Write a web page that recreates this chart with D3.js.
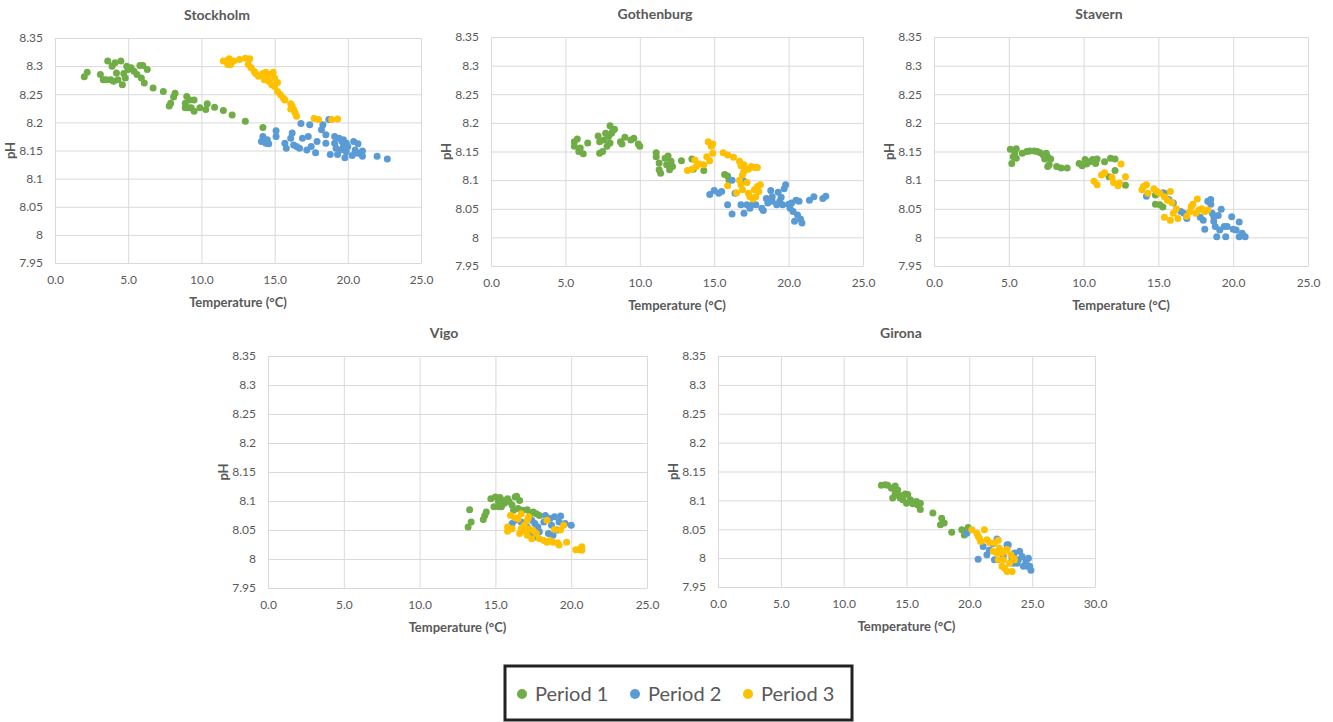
<!DOCTYPE html>
<html>
<head>
<meta charset="utf-8">
<script src="https://cdn.jsdelivr.net/npm/d3@7"></script>
<style>
  body { margin: 0; background: #fff; }
  text { font-family: Lato, "Open Sans", sans-serif; fill: #595959; }
</style>
</head>
<body>
<script>
// series names and colours
let periods = ["Period 1", "Period 2", "Period 3"];
let colors = ["#70ad47", "#5b9bd5", "#ffc000"];

let yTicks = [7.95, 8, 8.05, 8.1, 8.15, 8.2, 8.25, 8.3, 8.35];

// [temperature, pH]
let stockholmP1 = [[2.0,8.281],[2.2,8.289],[3.1,8.285],[3.3,8.276],[3.6,8.309],[3.8,8.276],[4.0,8.273],[4.2,8.288],[3.9,8.300],[4.1,8.306],[4.5,8.309],[4.6,8.267],[4.8,8.279],[4.9,8.300],[5.0,8.294],[5.2,8.297],[5.4,8.291],[5.6,8.285],[5.8,8.301],[6.0,8.301],[5.9,8.279],[6.1,8.270],[6.3,8.294],[3.5,8.276],[4.3,8.276],[4.7,8.287],[6.7,8.261],[7.4,8.255],[8.2,8.252],[8.1,8.245],[7.9,8.234],[7.8,8.229],[8.9,8.234],[9.0,8.246],[9.1,8.226],[9.2,8.240],[9.5,8.240],[9.5,8.220],[9.9,8.226],[10.3,8.223],[10.4,8.233],[10.9,8.227],[11.5,8.221],[12.1,8.213],[13.0,8.202],[14.2,8.191],[8.9,8.226],[9.3,8.226]];
let stockholmP2 = [[14.1,8.166],[14.2,8.175],[14.4,8.163],[14.5,8.169],[14.6,8.162],[15.1,8.185],[15.1,8.175],[15.7,8.163],[15.8,8.154],[16.1,8.172],[16.2,8.181],[16.3,8.160],[16.5,8.157],[16.7,8.154],[16.8,8.198],[16.9,8.172],[17.2,8.151],[17.3,8.175],[17.4,8.196],[17.5,8.157],[17.8,8.146],[17.9,8.166],[18.2,8.187],[18.3,8.196],[18.5,8.178],[18.5,8.163],[18.7,8.205],[18.8,8.143],[19.1,8.175],[19.1,8.163],[19.2,8.154],[19.3,8.143],[19.5,8.151],[19.6,8.166],[19.7,8.157],[19.8,8.137],[19.9,8.148],[19.9,8.163],[20.0,8.157],[20.3,8.141],[20.4,8.166],[20.5,8.151],[20.7,8.145],[20.7,8.162],[21.0,8.149],[21.0,8.140],[22.0,8.140],[22.7,8.135],[19.4,8.172],[19.7,8.169]];
let stockholmP3 = [[11.5,8.309],[11.7,8.309],[11.9,8.313],[12.0,8.303],[11.8,8.303],[12.2,8.309],[12.6,8.312],[13.0,8.314],[13.3,8.313],[13.2,8.303],[13.4,8.297],[13.6,8.291],[13.7,8.287],[13.9,8.282],[14.2,8.287],[14.3,8.276],[14.5,8.282],[14.6,8.273],[14.7,8.285],[14.9,8.289],[15.0,8.279],[14.8,8.267],[15.0,8.264],[15.2,8.271],[15.2,8.255],[15.4,8.249],[15.6,8.243],[15.7,8.240],[16.1,8.233],[16.2,8.229],[16.3,8.223],[16.1,8.224],[16.4,8.217],[16.5,8.211],[17.7,8.207],[18.0,8.205],[18.9,8.205],[19.3,8.206],[14.4,8.289]];

let gothenburgP1 = [[5.6,8.167],[5.6,8.159],[5.8,8.172],[5.9,8.150],[6.0,8.156],[6.2,8.146],[6.5,8.165],[7.2,8.177],[7.3,8.167],[7.3,8.147],[7.5,8.150],[7.6,8.170],[7.7,8.182],[7.9,8.176],[8.0,8.195],[8.1,8.182],[8.2,8.187],[8.3,8.189],[7.8,8.159],[8.0,8.165],[8.7,8.167],[8.8,8.163],[9.0,8.175],[9.4,8.170],[9.6,8.173],[9.9,8.163],[10.0,8.159],[11.1,8.148],[11.1,8.141],[11.3,8.130],[11.3,8.118],[11.4,8.112],[11.7,8.138],[11.8,8.127],[11.9,8.142],[12.0,8.118],[12.1,8.133],[12.2,8.124],[12.8,8.134],[13.5,8.137],[13.6,8.119],[14.3,8.117],[15.7,8.110],[15.9,8.107],[16.0,8.100]];
let gothenburgP2 = [[14.7,8.075],[15.0,8.082],[15.3,8.077],[15.5,8.080],[15.9,8.057],[16.2,8.100],[16.2,8.041],[16.4,8.077],[16.8,8.057],[17.0,8.042],[17.0,8.098],[17.2,8.057],[17.4,8.051],[17.6,8.058],[17.8,8.057],[18.2,8.051],[18.3,8.047],[18.5,8.068],[18.6,8.060],[18.8,8.082],[18.9,8.063],[19.2,8.057],[19.3,8.079],[19.4,8.063],[19.5,8.070],[19.6,8.057],[19.8,8.092],[19.7,8.085],[20.0,8.058],[20.1,8.051],[20.2,8.060],[20.3,8.045],[20.4,8.028],[20.5,8.065],[20.7,8.063],[20.6,8.039],[20.8,8.032],[20.9,8.025],[21.4,8.065],[21.7,8.071],[22.3,8.068],[22.5,8.072],[18.7,8.066],[18.9,8.071]];
let gothenburgP3 = [[13.2,8.117],[13.5,8.119],[13.7,8.135],[13.8,8.124],[14.0,8.128],[14.3,8.127],[14.5,8.141],[14.6,8.167],[14.7,8.134],[14.8,8.159],[14.9,8.147],[14.9,8.163],[15.6,8.148],[15.9,8.144],[16.3,8.140],[16.7,8.133],[16.8,8.125],[17.0,8.127],[17.3,8.119],[17.5,8.124],[17.7,8.122],[17.9,8.122],[15.9,8.090],[16.5,8.078],[16.7,8.100],[16.8,8.092],[16.9,8.109],[17.0,8.115],[16.9,8.083],[17.2,8.096],[17.3,8.077],[17.4,8.071],[17.6,8.067],[17.8,8.071],[18.0,8.080],[18.1,8.092],[17.9,8.089],[17.7,8.083]];

let stavernP1 = [[5.1,8.154],[5.2,8.129],[5.3,8.141],[5.4,8.147],[5.5,8.155],[5.5,8.138],[5.9,8.147],[6.2,8.150],[6.4,8.151],[6.7,8.151],[6.9,8.150],[7.1,8.148],[7.3,8.144],[7.5,8.147],[7.4,8.137],[7.6,8.141],[7.6,8.124],[7.7,8.127],[7.8,8.137],[8.2,8.124],[8.5,8.121],[8.9,8.121],[9.7,8.129],[9.9,8.125],[10.1,8.136],[10.2,8.128],[10.4,8.132],[10.6,8.136],[10.8,8.129],[10.9,8.137],[11.4,8.132],[11.8,8.138],[12.1,8.137],[12.1,8.117],[11.7,8.106],[12.8,8.091],[14.8,8.074],[14.8,8.058],[15.1,8.057],[15.3,8.053],[15.4,8.077]];
let stavernP2 = [[14.2,8.072],[15.3,8.078],[15.7,8.066],[16.0,8.060],[16.5,8.045],[16.7,8.042],[16.9,8.033],[17.8,8.035],[18.0,8.030],[18.1,8.014],[18.3,8.063],[18.5,8.058],[18.5,8.066],[18.6,8.042],[18.7,8.028],[18.8,8.019],[18.9,8.001],[19.0,8.038],[19.1,8.013],[19.2,8.049],[19.4,8.019],[19.5,8.001],[19.9,8.036],[20.0,8.014],[20.2,8.013],[20.4,8.027],[20.4,8.001],[20.6,8.007],[20.8,8.001],[18.7,8.036],[19.6,8.019]];
let stavernP3 = [[10.7,8.098],[10.9,8.092],[11.2,8.109],[11.4,8.113],[11.9,8.105],[12.0,8.096],[12.3,8.090],[12.4,8.095],[12.5,8.128],[12.8,8.106],[13.9,8.083],[14.0,8.089],[14.2,8.092],[14.3,8.077],[14.7,8.085],[14.9,8.080],[15.1,8.077],[15.4,8.071],[15.6,8.065],[15.8,8.080],[15.9,8.061],[15.4,8.035],[15.8,8.030],[16.0,8.042],[16.2,8.050],[16.3,8.033],[16.9,8.037],[17.1,8.045],[17.2,8.054],[17.3,8.058],[17.5,8.042],[17.6,8.067],[17.7,8.048],[17.9,8.050],[18.1,8.045],[18.3,8.048]];

let vigoP1 = [[13.2,8.055],[13.3,8.085],[13.4,8.064],[14.2,8.068],[14.3,8.075],[14.4,8.081],[14.7,8.104],[14.9,8.090],[15.0,8.107],[15.2,8.099],[15.3,8.106],[15.4,8.090],[15.5,8.101],[15.6,8.096],[15.8,8.104],[15.9,8.099],[16.1,8.093],[16.2,8.084],[16.3,8.107],[16.4,8.108],[16.6,8.101],[16.5,8.087],[16.8,8.084],[17.1,8.085],[17.3,8.078],[17.5,8.081],[17.7,8.078],[17.9,8.075],[15.2,8.090],[15.5,8.096]];
let vigoP2 = [[16.1,8.061],[16.3,8.067],[16.7,8.064],[17.1,8.055],[17.4,8.067],[17.6,8.061],[17.8,8.055],[17.9,8.047],[18.2,8.064],[18.3,8.075],[18.5,8.044],[18.6,8.070],[18.7,8.058],[18.8,8.041],[18.9,8.073],[19.2,8.064],[19.3,8.074],[19.1,8.050],[19.6,8.061],[20.0,8.058],[17.3,8.044],[17.6,8.038]];
let vigoP3 = [[15.8,8.055],[15.8,8.048],[16.1,8.052],[16.0,8.075],[16.3,8.071],[16.5,8.069],[16.7,8.078],[16.6,8.044],[16.7,8.052],[16.9,8.058],[17.0,8.047],[17.1,8.067],[17.1,8.041],[17.2,8.052],[17.4,8.035],[17.5,8.049],[17.7,8.044],[17.9,8.035],[18.2,8.032],[18.4,8.029],[18.4,8.067],[18.6,8.032],[18.8,8.029],[18.9,8.051],[19.2,8.024],[19.3,8.050],[19.5,8.058],[19.7,8.029],[20.3,8.016],[20.5,8.016],[20.7,8.015],[20.7,8.021],[19.1,8.028],[17.2,8.073]];

let gironaP1 = [[13.0,8.126],[13.3,8.127],[13.5,8.126],[13.8,8.121],[14.1,8.125],[13.9,8.104],[14.1,8.112],[14.3,8.109],[14.5,8.104],[14.7,8.101],[14.9,8.111],[15.0,8.095],[15.1,8.110],[15.3,8.101],[15.4,8.098],[15.5,8.094],[15.8,8.098],[15.9,8.092],[16.1,8.095],[16.1,8.084],[17.1,8.078],[17.8,8.069],[17.7,8.058],[18.0,8.061],[18.6,8.045],[19.4,8.049],[19.6,8.040],[19.9,8.053],[14.3,8.118],[14.6,8.108]];
let gironaP2 = [[19.8,8.043],[20.7,7.998],[21.1,8.020],[21.4,8.006],[21.6,8.014],[21.9,8.025],[22.0,7.997],[22.2,8.033],[22.4,8.012],[22.7,8.003],[23.0,8.023],[23.1,8.023],[23.4,8.000],[23.6,8.009],[23.8,7.991],[24.0,8.012],[24.2,8.003],[24.3,7.986],[24.5,7.994],[24.7,8.000],[24.8,7.986],[24.9,7.979],[24.6,7.986],[23.9,7.997],[23.5,7.991]];
let gironaP3 = [[20.2,8.049],[20.6,8.043],[20.8,8.035],[20.9,8.029],[21.2,8.049],[21.4,8.032],[21.6,8.027],[22.0,8.026],[22.3,8.031],[21.9,8.012],[22.2,8.009],[22.4,8.017],[22.6,8.009],[22.7,7.997],[22.8,8.012],[22.6,7.986],[22.8,7.983],[23.0,7.977],[23.2,7.991],[23.3,8.006],[23.5,8.000],[23.6,7.997],[23.4,7.977],[22.3,7.997],[23.0,8.015],[20.7,8.038]];

let cities = ["Stockholm", "Gothenburg", "Stavern", "Vigo", "Girona"];
let cityData = [
  [stockholmP1, stockholmP2, stockholmP3],
  [gothenburgP1, gothenburgP2, gothenburgP3],
  [stavernP1, stavernP2, stavernP3],
  [vigoP1, vigoP2, vigoP3],
  [gironaP1, gironaP2, gironaP3]
];
let xMax = [25, 25, 25, 25, 30];

// plot rectangles for each panel (left, top, right, bottom) and title centre
let panels = [
  {x0: 55,  y0: 38,  x1: 421,  y1: 263, tx: 217},
  {x0: 491, y0: 37,  x1: 863,  y1: 266, tx: 655},
  {x0: 934, y0: 37,  x1: 1308, y1: 266, tx: 1099},
  {x0: 268, y0: 356, x1: 647,  y1: 588, tx: 444},
  {x0: 718, y0: 356, x1: 1095, y1: 587, tx: 901}
];

let svg = d3.select("body").append("svg")
  .attr("width", 1333)
  .attr("height", 722);

panels.forEach(function(p, i) {
  let xScale = d3.scaleLinear().domain([0, xMax[i]]).range([p.x0, p.x1]);
  let yScale = d3.scaleLinear().domain([7.95, 8.35]).range([p.y1, p.y0]);
  let xTicks = d3.range(0, xMax[i] + 0.1, 5);

  let g = svg.append("g");

  // gridlines
  g.append("g")
      .attr("transform", "translate(0," + p.y1 + ")")
      .call(d3.axisBottom(xScale).tickValues(xTicks).tickSize(-(p.y1 - p.y0)).tickFormat(""))
      .call(function(a) { a.select(".domain").remove(); })
      .selectAll("line").attr("stroke", "#d9d9d9");
  g.append("g")
      .attr("transform", "translate(" + p.x0 + ",0)")
      .call(d3.axisLeft(yScale).tickValues(yTicks).tickSize(-(p.x1 - p.x0)).tickFormat(""))
      .call(function(a) { a.select(".domain").remove(); })
      .selectAll("line").attr("stroke", "#d9d9d9");

  // tick labels
  let xa = g.append("g")
      .attr("transform", "translate(0," + p.y1 + ")")
      .call(d3.axisBottom(xScale).tickValues(xTicks).tickSize(0).tickPadding(12)
        .tickFormat(function(d) { return d.toFixed(1); }));
  xa.select(".domain").attr("stroke", "#d9d9d9");
  let ya = g.append("g")
      .attr("transform", "translate(" + p.x0 + ",0)")
      .call(d3.axisLeft(yScale).tickValues(yTicks).tickSize(0).tickPadding(12)
        .tickFormat(function(d) { return String(+d.toFixed(2)); }));
  ya.select(".domain").remove();
  g.selectAll(".tick text")
      .attr("fill", "#595959")
      .style("font-size", "12px")
      .style("font-family", "Lato, 'Open Sans', sans-serif");

  // points: period 1, 2, 3 drawn in order
  cityData[i].forEach(function(series, k) {
    g.append("g").selectAll("circle")
        .data(series)
      .enter().append("circle")
        .attr("r", 3.5)
        .attr("cx", function(d) { return xScale(d[0]); })
        .attr("cy", function(d) { return yScale(d[1]); })
        .attr("fill", colors[k]);
  });

  // titles
  g.append("text")
      .attr("x", p.tx)
      .attr("y", p.y0 - 18)
      .attr("text-anchor", "middle")
      .style("font-size", "14px")
      .style("font-weight", "bold")
      .text(cities[i]);
  g.append("text")
      .attr("x", (p.x0 + p.x1) / 2)
      .attr("y", p.y1 + 44)
      .attr("text-anchor", "middle")
      .style("font-size", "13px")
      .style("font-weight", "bold")
      .text("Temperature (°C)");
  g.append("text")
      .attr("transform", "translate(" + (p.x0 - 40) + "," + ((p.y0 + p.y1) / 2) + ") rotate(-90)")
      .attr("text-anchor", "middle")
      .style("font-size", "13px")
      .style("font-weight", "bold")
      .text("pH");
});

// legend
let legend = svg.append("g");
legend.append("rect")
    .attr("x", 505).attr("y", 666)
    .attr("width", 347).attr("height", 54)
    .attr("fill", "none")
    .attr("stroke", "#222")
    .attr("stroke-width", 3);
let legendX = [522, 635, 748];
periods.forEach(function(name, k) {
  legend.append("circle")
      .attr("cx", legendX[k]).attr("cy", 694)
      .attr("r", 5)
      .attr("fill", colors[k]);
  legend.append("text")
      .attr("x", legendX[k] + 13).attr("y", 701)
      .style("font-size", "20px")
      .text(name);
});
</script>
</body>
</html>
